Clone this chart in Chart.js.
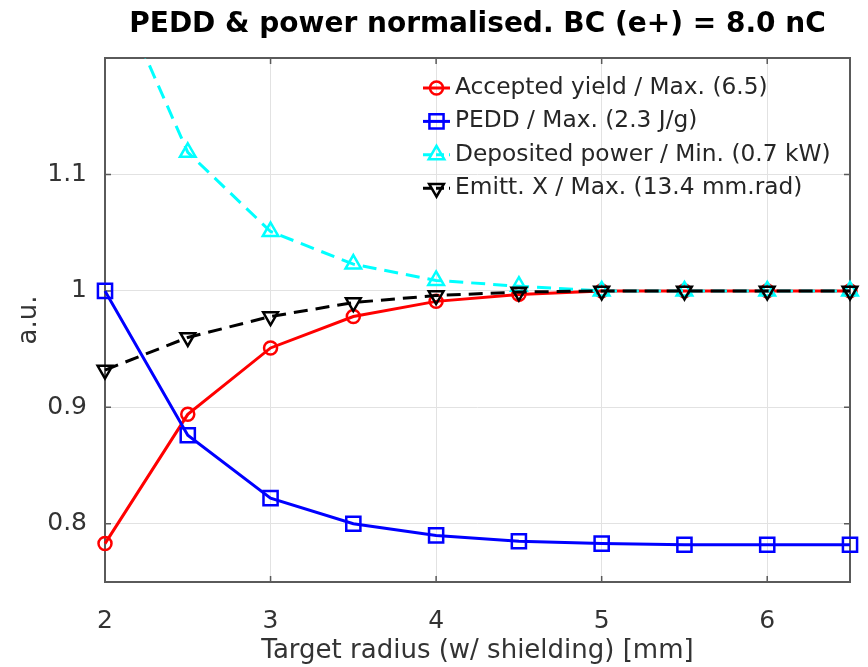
<!DOCTYPE html>
<html>
<head>
<meta charset="utf-8">
<script src="https://cdn.jsdelivr.net/npm/chart.js@4.4.0/dist/chart.umd.min.js"></script>
<style>
    html, body { margin: 0; padding: 0; background: #fff; }
    #wrap { width: 868px; height: 667px; }
</style>
</head>
<body>
<div id="wrap"><canvas id="grafico" width="868" height="667"></canvas></div>
<script>
// raio do alvo em mm (eixo x)
const radius = [2, 2.5, 3, 3.5, 4, 4.5, 5, 5.5, 6, 6.5];

// series normalizadas
const yieldNorm = [0.783, 0.894, 0.951, 0.978, 0.991, 0.997, 1.0, 1.0, 1.0, 1.0];
const peddNorm = [1.0, 0.876, 0.822, 0.800, 0.790, 0.785, 0.783, 0.782, 0.782, 0.782];
const powerNorm = [1.28, 1.119, 1.051, 1.023, 1.009, 1.004, 1.0, 1.0, 1.0, 1.0];
const emittNorm = [0.932, 0.960, 0.978, 0.990, 0.996, 0.999, 1.0, 1.0, 1.0, 1.0];

const seriesLabels = [
    'Accepted yield / Max. (6.5)',
    'PEDD / Max. (2.3 J/g)',
    'Deposited power / Min. (0.7 kW)',
    'Emitt. X / Max. (13.4 mm.rad)'
];

const xTicks = [2, 3, 4, 5, 6];
const yTicks = [0.8, 0.9, 1, 1.1];

const fonte = '"DejaVu Sans"';
const corTexto = '#333333';

function pontos(valores) {
    return radius.map((r, i) => ({ x: r, y: valores[i] }));
}

// caixa em volta do grafico com os ticks para dentro (estilo matlab)
const caixaEixos = {
    id: 'caixaEixos',
    beforeDatasetsDraw(chart) {
        const { ctx, chartArea: a, scales: { x, y } } = chart;
        ctx.save();
        ctx.strokeStyle = '#5a5a5a';
        ctx.lineWidth = 1.5;
        ctx.beginPath();
        xTicks.forEach((v) => {
            const px = x.getPixelForValue(v);
            ctx.moveTo(px, a.bottom); ctx.lineTo(px, a.bottom - 6);
            ctx.moveTo(px, a.top); ctx.lineTo(px, a.top + 6);
        });
        yTicks.forEach((v) => {
            const py = y.getPixelForValue(v);
            ctx.moveTo(a.left, py); ctx.lineTo(a.left + 6, py);
            ctx.moveTo(a.right, py); ctx.lineTo(a.right - 6, py);
        });
        ctx.stroke();
        ctx.lineWidth = 2;
        ctx.strokeRect(a.left, a.top, a.right - a.left, a.bottom - a.top);
        ctx.restore();
    }
};

// legenda dentro da area do grafico, sem caixa
const legenda = {
    id: 'legenda',
    afterDraw(chart) {
        const { ctx, chartArea: a } = chart;
        const x0 = a.left + 318;
        ctx.save();
        chart.data.datasets.forEach((ds, i) => {
            const yy = a.top + 30 + i * 33.4;
            ctx.strokeStyle = ds.borderColor;
            ctx.lineWidth = ds.borderWidth;
            ctx.setLineDash(ds.borderDash ? [8, 5] : []);
            ctx.beginPath();
            ctx.moveTo(x0, yy);
            ctx.lineTo(x0 + 27, yy);
            ctx.stroke();
            ctx.setLineDash([]);
            ctx.lineWidth = ds.pointBorderWidth;
            ctx.fillStyle = 'rgba(0,0,0,0)';
            Chart.helpers.drawPoint(ctx, {
                pointStyle: ds.pointStyle,
                radius: ds.pointRadius,
                rotation: ds.pointRotation || 0,
                borderWidth: ds.pointBorderWidth
            }, x0 + 13.5, yy);
            ctx.fillStyle = '#262626';
            ctx.font = '23.3px ' + fonte;
            ctx.textBaseline = 'middle';
            ctx.textAlign = 'left';
            ctx.fillText(ds.label, x0 + 32, yy);
        });
        ctx.restore();
    }
};

const recorte = { left: 14, top: 0, right: 14, bottom: 14 };

let ctx = document.getElementById('grafico');

new Chart(ctx, {
    type: 'line',
    data: {
        datasets: [{
            label: seriesLabels[0],
            data: pontos(yieldNorm),
            borderColor: '#ff0000',
            borderWidth: 3,
            pointStyle: 'circle',
            pointRadius: 6.5,
            pointBorderWidth: 2.5,
            pointBorderColor: '#ff0000',
            pointBackgroundColor: 'rgba(0,0,0,0)',
            order: 4,
            clip: recorte
        },
        {
            label: seriesLabels[1],
            data: pontos(peddNorm),
            borderColor: '#0000ff',
            borderWidth: 3,
            pointStyle: 'rect',
            pointRadius: 10,
            pointBorderWidth: 2.5,
            pointBorderColor: '#0000ff',
            pointBackgroundColor: 'rgba(0,0,0,0)',
            order: 3,
            clip: recorte
        },
        {
            label: seriesLabels[2],
            data: pontos(powerNorm),
            borderColor: '#00ffff',
            borderWidth: 3,
            borderDash: [14, 8],
            pointStyle: 'triangle',
            pointRadius: 9,
            pointBorderWidth: 2.5,
            pointBorderColor: '#00ffff',
            pointBackgroundColor: 'rgba(0,0,0,0)',
            order: 2,
            clip: recorte
        },
        {
            label: seriesLabels[3],
            data: pontos(emittNorm),
            borderColor: '#000000',
            borderWidth: 3,
            borderDash: [14, 8],
            pointStyle: 'triangle',
            pointRotation: 180,
            pointRadius: 8.5,
            pointBorderWidth: 2.5,
            pointBorderColor: '#000000',
            pointBackgroundColor: 'rgba(0,0,0,0)',
            order: 1,
            clip: recorte
        }]
    },
    options: {
        responsive: false,
        animation: false,
        events: [],
        layout: { padding: { top: 0, left: 0, right: 18, bottom: 0 } },
        plugins: {
            legend: { display: false },
            tooltip: { enabled: false },
            title: {
                display: true,
                fullSize: false,
                text: 'PEDD & power normalised. BC (e+) = 8.0 nC',
                color: '#000000',
                font: { family: fonte, size: 28, weight: 'bold' },
                padding: { top: 8, bottom: 16.4 }
            }
        },
        scales: {
            x: {
                type: 'linear',
                min: 2,
                max: 6.5,
                afterBuildTicks: (s) => { s.ticks = xTicks.map((v) => ({ value: v })); },
                afterFit: (s) => { s.height = 85; },
                ticks: {
                    color: corTexto,
                    font: { family: fonte, size: 25 },
                    padding: 24,
                    maxRotation: 0,
                    autoSkip: false,
                    callback: (v) => String(v)
                },
                grid: { color: '#e2e2e2', lineWidth: 1, drawTicks: false },
                border: { display: false },
                title: {
                    display: true,
                    text: 'Target radius (w/ shielding) [mm]',
                    color: corTexto,
                    font: { family: fonte, size: 26 },
                    padding: { top: 0, bottom: 0 }
                }
            },
            y: {
                type: 'linear',
                min: 0.75,
                max: 1.2,
                afterBuildTicks: (s) => { s.ticks = yTicks.map((v) => ({ value: v })); },
                afterFit: (s) => { s.width = 105; },
                ticks: {
                    color: corTexto,
                    font: { family: fonte, size: 25 },
                    padding: 18,
                    autoSkip: false,
                    callback: (v) => String(v)
                },
                grid: { color: '#e2e2e2', lineWidth: 1, drawTicks: false },
                border: { display: false },
                title: {
                    display: true,
                    text: 'a.u.',
                    color: corTexto,
                    font: { family: fonte, size: 26 },
                    padding: { top: 14, bottom: 0 }
                }
            }
        }
    },
    plugins: [caixaEixos, legenda]
});
</script>
</body>
</html>
